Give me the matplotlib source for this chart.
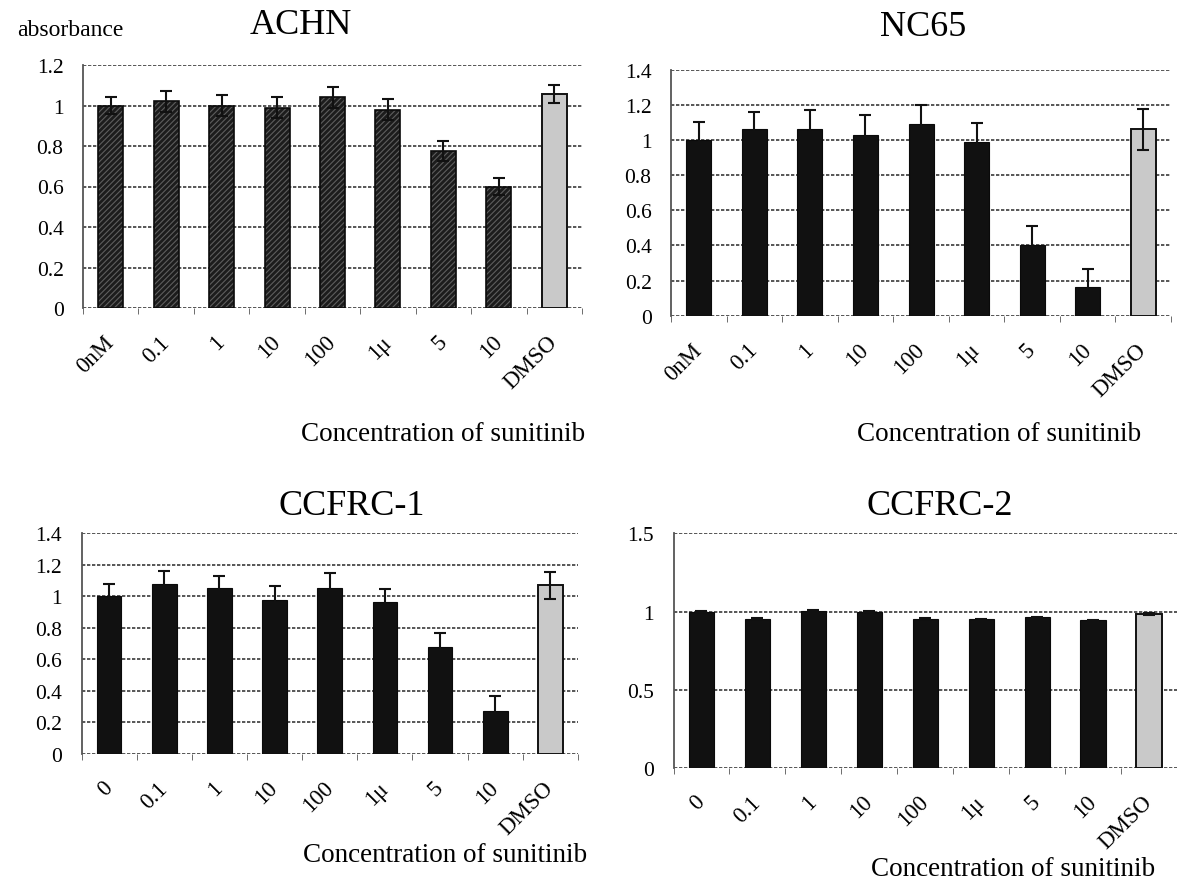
import matplotlib
matplotlib.use("Agg")
import matplotlib.pyplot as plt
import numpy as np

plt.rcParams['font.family'] = ['Liberation Serif', 'DejaVu Serif']
plt.rcParams['hatch.linewidth'] = 0.8

labels_top = ["0nM", "0.1", "1", "10", "100", "1\u03bc", "5", "10", "DMSO"]
labels_bottom = ["0", "0.1", "1", "10", "100", "1\u03bc", "5", "10", "DMSO"]

achn_vals = [1.00, 1.02, 1.00, 0.99, 1.04, 0.98, 0.775, 0.60, 1.055]
achn_err = [0.04, 0.05, 0.05, 0.05, 0.05, 0.05, 0.05, 0.04, 0.045]

nc65_vals = [1.00, 1.06, 1.06, 1.03, 1.09, 0.99, 0.40, 0.165, 1.06]
nc65_err = [0.105, 0.10, 0.11, 0.11, 0.11, 0.105, 0.11, 0.10, 0.115]

ccfrc1_vals = [1.00, 1.08, 1.05, 0.98, 1.055, 0.965, 0.68, 0.275, 1.07]
ccfrc1_err = [0.08, 0.08, 0.077, 0.088, 0.09, 0.08, 0.09, 0.09, 0.085]

ccfrc2_vals = [1.00, 0.955, 1.005, 0.998, 0.953, 0.952, 0.962, 0.943, 0.983]
ccfrc2_err = [0.003, 0.003, 0.006, 0.003, 0.003, 0.003, 0.003, 0.004, 0.006]

W, H = 1177, 887
fig = plt.figure(figsize=(W / 100, H / 100), dpi=100)


def px_axes(left, right, top, bottom):
    return fig.add_axes([left / W, 1 - bottom / H, (right - left) / W, (bottom - top) / H])


def draw(ax, vals, err, labels, ymax, ystep, hatched=False):
    x = np.arange(len(vals))
    n = len(vals)
    for i in range(n - 1):
        if hatched:
            ax.bar(x[i], vals[i], width=0.45, color='#1c1c1c', edgecolor='#5e5e5e',
                   hatch='//////', linewidth=0, zorder=3)
            ax.bar(x[i], vals[i], width=0.45, fill=False, edgecolor='#0a0a0a',
                   linewidth=1.2, zorder=3)
        else:
            ax.bar(x[i], vals[i], width=0.45, color='#111111', edgecolor='#0a0a0a',
                   linewidth=0.8, zorder=3)
    ax.bar(x[-1], vals[-1], width=0.45, color='#c9c9c9', edgecolor='#111111',
           linewidth=1.4, zorder=3)
    ax.errorbar(x, vals, yerr=err, fmt='none', ecolor='#111111', elinewidth=1.5,
                capsize=4.5, capthick=1.5, zorder=4)
    ax.set_xlim(-0.5, n - 0.5)
    ax.set_ylim(0, ymax)
    yt = np.round(np.arange(0, ymax + 1e-9, ystep), 2)
    ax.set_yticks(yt)
    ax.set_yticklabels([('%g' % v) for v in yt], fontsize=15.5)
    for v in yt:
        ax.axhline(v, color='#3a3a3a', linewidth=1.2, linestyle=(0, (2, 1)), zorder=1)
    ax.set_xticks(x)
    ax.set_xticklabels(labels, rotation=45, ha='right', va='center',
                       rotation_mode='anchor', fontsize=16.5)
    ax.set_xticks(np.arange(-0.5, n, 1.0), minor=True)
    ax.tick_params(axis='x', which='major', length=0, pad=22)
    ax.tick_params(axis='x', which='minor', length=4, color='#555555', direction='out')
    ax.tick_params(axis='y', length=0, pad=14)
    for s in ['top', 'right', 'bottom']:
        ax.spines[s].set_visible(False)
    ax.spines['left'].set_color('#555555')
    ax.spines['left'].set_linestyle((0, (1, 1)))
    ax.spines['left'].set_linewidth(1.3)


ax1 = px_axes(83, 582, 66, 309)
draw(ax1, achn_vals, achn_err, labels_top, 1.2, 0.2, hatched=True)
ax2 = px_axes(671, 1171, 70.7, 316.7)
draw(ax2, nc65_vals, nc65_err, labels_top, 1.4, 0.2)
ax3 = px_axes(81.5, 578, 534.3, 755)
draw(ax3, ccfrc1_vals, ccfrc1_err, labels_bottom, 1.4, 0.2)
ax4 = px_axes(673.5, 1177, 534.3, 769)
draw(ax4, ccfrc2_vals, ccfrc2_err, labels_bottom, 1.5, 0.5)


def ftext(xp, yp, s, size, **kw):
    fig.text(xp / W, 1 - yp / H, s, fontsize=size, ha='center', va='center', **kw)


ftext(70, 30, "absorbance", 17)
ftext(301, 25, "ACHN", 26)
ftext(923, 27, "NC65", 26)
ftext(352, 507, "CCFRC-1", 26)
ftext(940, 507, "CCFRC-2", 26)
ftext(443, 435, "Concentration of sunitinib", 19.5)
ftext(999, 435, "Concentration of sunitinib", 19.5)
ftext(445, 856, "Concentration of sunitinib", 19.5)
ftext(1013, 870, "Concentration of sunitinib", 19.5)

fig.savefig("out.png", dpi=100)
